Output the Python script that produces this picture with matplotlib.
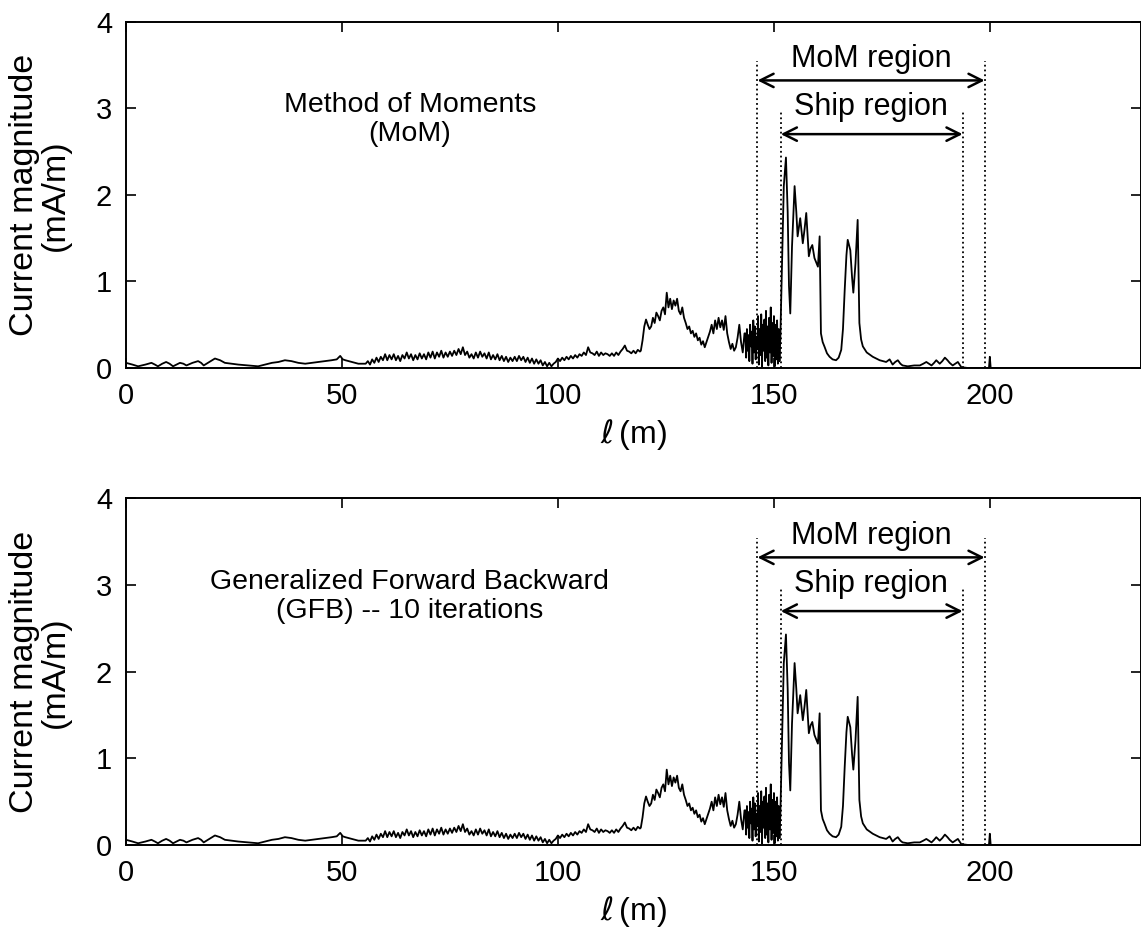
"""
Current magnitude along the path: MoM vs GFB (10 iterations)
"""

import numpy as np
import matplotlib
matplotlib.use("Agg")
import matplotlib.pyplot as plt

plt.rcParams["font.family"] = ["Liberation Sans", "DejaVu Sans"]
plt.rcParams["mathtext.fontset"] = "dejavusans"

# --- data (l in m, current in mA/m) ---

# smooth start, (l, current)
start_pts = [
    (0.0, 0.06), (1.5, 0.04), (2.8, 0.02), (4.5, 0.04), (5.9, 0.06), (6.7, 0.04),
    (7.4, 0.02), (8.4, 0.05), (9.3, 0.07), (10.1, 0.05), (10.9, 0.02), (11.7, 0.04),
    (12.5, 0.06), (13.3, 0.05), (14.0, 0.03), (15.4, 0.06), (16.7, 0.08), (17.4, 0.06),
    (18.0, 0.03), (19.3, 0.07), (20.6, 0.11), (21.8, 0.09), (22.9, 0.06), (24.5, 0.05),
    (26.0, 0.04), (28.3, 0.03), (30.6, 0.02), (32.2, 0.04), (33.8, 0.06), (35.3, 0.07),
    (36.8, 0.09), (38.3, 0.08), (39.9, 0.06), (41.5, 0.05), (43.0, 0.06), (44.5, 0.07),
    (46.0, 0.08), (47.6, 0.09), (48.8, 0.10), (49.6, 0.14), (50.2, 0.10), (50.8, 0.09),
    (52.3, 0.07), (53.8, 0.05), (55.0, 0.05),
]

# fuzzy middle part, 55.5 .. 119 m
mid_range = (55.5, 119.0)
mid_cur = [
    0.05, 0.08, 0.04, 0.10, 0.06, 0.12, 0.07, 0.13, 0.09, 0.16,
    0.09, 0.15, 0.10, 0.16, 0.09, 0.14, 0.08, 0.15, 0.11, 0.18,
    0.11, 0.16, 0.09, 0.15, 0.10, 0.17, 0.11, 0.16, 0.10, 0.18,
    0.12, 0.19, 0.11, 0.18, 0.13, 0.20, 0.12, 0.18, 0.13, 0.19,
    0.14, 0.20, 0.15, 0.22, 0.16, 0.24, 0.15, 0.19, 0.12, 0.16,
    0.11, 0.18, 0.12, 0.19, 0.13, 0.17, 0.11, 0.18, 0.10, 0.15,
    0.10, 0.16, 0.09, 0.14, 0.08, 0.13, 0.07, 0.12, 0.08, 0.13,
    0.08, 0.14, 0.09, 0.13, 0.07, 0.12, 0.06, 0.11, 0.05, 0.10,
    0.05, 0.09, 0.03, 0.07, 0.02, 0.06, 0.02, 0.05, 0.07, 0.11,
    0.08, 0.12, 0.09, 0.13, 0.10, 0.14, 0.11, 0.15, 0.12, 0.16,
    0.14, 0.18, 0.15, 0.24, 0.18, 0.17, 0.15, 0.19, 0.14, 0.18,
    0.15, 0.17, 0.16, 0.14, 0.17, 0.14, 0.18, 0.15, 0.19, 0.22,
    0.26, 0.20, 0.19, 0.17, 0.20, 0.17, 0.21, 0.19,
]

# hump before the ship, 119.2 .. 143.2 m
hump_range = (119.2, 143.2)
hump_cur = [
    0.20, 0.32, 0.48, 0.56, 0.50, 0.45, 0.48, 0.58, 0.52, 0.64,
    0.60, 0.55, 0.66, 0.70, 0.62, 0.87, 0.70, 0.80, 0.68, 0.78,
    0.72, 0.80, 0.66, 0.62, 0.70, 0.58, 0.52, 0.45, 0.48, 0.40,
    0.43, 0.36, 0.40, 0.32, 0.35, 0.27, 0.31, 0.24, 0.30, 0.36,
    0.42, 0.50, 0.40, 0.55, 0.45, 0.58, 0.47, 0.55, 0.44, 0.60,
    0.40, 0.30, 0.22, 0.28, 0.20, 0.24, 0.35, 0.50, 0.30, 0.18,
    0.40,
]

# strong oscillation just inside the MoM region, 143.4 .. 151.3 m
osc_range = (143.4, 151.3)
osc_cur = [
    0.40, 0.12, 0.45, 0.20, 0.38, 0.08, 0.50, 0.25, 0.42, 0.05,
    0.55, 0.18, 0.48, 0.10, 0.36, 0.22, 0.60, 0.04, 0.45, 0.15,
    0.62, 0.02, 0.50, 0.20, 0.56, 0.08, 0.66, 0.12, 0.48, 0.03,
    0.58, 0.18, 0.70, 0.06, 0.52, 0.14, 0.60, 0.02, 0.50, 0.10,
    0.55, 0.05, 0.45, 0.08,
]

# ship peaks and tail, (l, current)
ship_pts = [
    (151.5, 0.35), (151.9, 1.20), (152.3, 2.10), (152.8, 2.43), (153.2, 1.80),
    (153.5, 0.95), (153.8, 0.63), (154.2, 1.40), (154.8, 2.10), (155.2, 1.80),
    (155.5, 1.52), (156.1, 1.73), (156.7, 1.44), (157.1, 1.60), (157.5, 1.79),
    (158.1, 1.29), (158.5, 1.38), (158.9, 1.42), (159.4, 1.27), (159.8, 1.22),
    (160.2, 1.17), (160.6, 1.52), (160.9, 0.40), (161.3, 0.30), (161.7, 0.25),
    (162.3, 0.17), (162.9, 0.13), (163.6, 0.10), (164.4, 0.09), (165.0, 0.12),
    (165.6, 0.21), (166.0, 0.45), (166.4, 0.90), (166.8, 1.30), (167.1, 1.48),
    (167.7, 1.36), (168.1, 1.05), (168.4, 0.87), (168.9, 1.21), (169.4, 1.71),
    (169.8, 0.52), (170.2, 0.33), (170.6, 0.25), (171.5, 0.18), (172.9, 0.13),
    (174.5, 0.09), (176.0, 0.07), (176.8, 0.10), (177.5, 0.04), (178.1, 0.07),
    (178.7, 0.09), (179.3, 0.05), (179.8, 0.03), (181.0, 0.02), (182.5, 0.03),
    (183.8, 0.03), (184.6, 0.05), (185.3, 0.07), (185.9, 0.05), (186.5, 0.03),
    (187.1, 0.06), (187.6, 0.09), (188.0, 0.07), (188.4, 0.05), (189.0, 0.08),
    (189.6, 0.12), (190.2, 0.09), (190.7, 0.06), (191.4, 0.03), (192.0, 0.05),
    (192.6, 0.07), (193.4, 0.01), (195.0, 0.00), (199.8, 0.00), (200.0, 0.13),
    (200.2, 0.00), (210.0, 0.00), (235.0, 0.00),
]

mom_region = (146.2, 198.8)
ship_region = (151.6, 193.7)

panel_titles = [
    "Method of Moments\n(MoM)",
    "Generalized Forward Backward\n(GFB) -- 10 iterations",
]


def build_curve():
    ell = [p[0] for p in start_pts]
    cur = [p[1] for p in start_pts]
    for (a, b), vals in [(mid_range, mid_cur), (hump_range, hump_cur), (osc_range, osc_cur)]:
        ell += list(np.linspace(a, b, len(vals)))
        cur += vals
    ell += [p[0] for p in ship_pts]
    cur += [p[1] for p in ship_pts]
    return np.array(ell), np.array(cur)


def draw_panel(fig, bottom, title, ell, cur):
    ax = fig.add_axes([0.1104, bottom, 0.8896, 0.3640])
    ax.plot(ell, cur, color="black", lw=1.3)

    ax.set_xlim(0, 235)
    ax.set_ylim(0, 4)
    ax.set_xticks([0, 50, 100, 150, 200])
    ax.set_yticks([0, 1, 2, 3, 4])
    ax.tick_params(direction="in", top=True, right=True, length=7, width=1.2,
                   labelsize=21, pad=10)
    for s in ax.spines.values():
        s.set_linewidth(1.4)

    ax.set_xlabel(r"$\ell\,$(m)", fontsize=23, labelpad=5)

    ax.text(65.7, 2.87, title, ha="center", va="center", fontsize=20.5,
            linespacing=1.12)

    # region markers
    for l in mom_region:
        ax.plot([l, l], [0, 3.54], ls=":", color="black", lw=1.3)
    for l in ship_region:
        ax.plot([l, l], [0, 2.95], ls=":", color="black", lw=1.3)

    arrow = dict(arrowstyle="<->", lw=1.8, color="black", mutation_scale=24,
                 shrinkA=0, shrinkB=0)
    ax.annotate("", xy=(mom_region[0], 3.32), xytext=(mom_region[1], 3.32),
                arrowprops=arrow)
    ax.annotate("", xy=(ship_region[0], 2.70), xytext=(ship_region[1], 2.70),
                arrowprops=arrow)
    mid = (mom_region[0] + mom_region[1]) / 2
    ax.text(mid, 3.57, "MoM region", ha="center", va="center", fontsize=22)
    ax.text(mid, 3.01, "Ship region", ha="center", va="center", fontsize=22)

    fig.text(0.035, bottom + 0.182, "Current magnitude\n(mA/m)", rotation=90,
             ha="center", va="center", fontsize=24.5, linespacing=0.98)
    return ax


def main():
    ell, cur = build_curve()
    fig = plt.figure(figsize=(11.41, 9.52), dpi=100)
    draw_panel(fig, 0.6134, panel_titles[0], ell, cur)
    draw_panel(fig, 0.1124, panel_titles[1], ell, cur)
    fig.savefig("out.png", dpi=100)


if __name__ == "__main__":
    main()
